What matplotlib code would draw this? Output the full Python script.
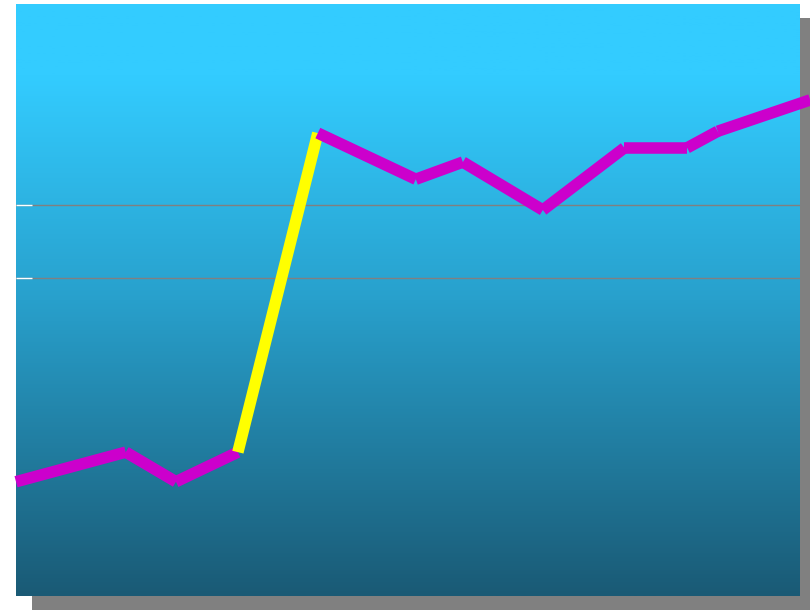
import numpy as np
import matplotlib
matplotlib.use("Agg")
import matplotlib.pyplot as plt
from matplotlib.colors import LinearSegmentedColormap
from matplotlib.patches import Rectangle

# data (x on a 0-100 scale, y on a 0-100 scale)
x_vals = [0, 14.0, 20.4, 28.3, 38.5, 51.0, 57.0, 67.2, 77.6, 85.6, 89.5, 101.3]
y_vals = [19.3, 24.3, 19.3, 24.3, 78.2, 70.4, 73.3, 65.2, 75.7, 75.7, 78.5, 83.8]
seg_colors = ["#CC00CC", "#CC00CC", "#CC00CC", "#FFFF00", "#CC00CC", "#CC00CC",
              "#CC00CC", "#CC00CC", "#CC00CC", "#CC00CC", "#CC00CC"]
grid_vals = [53.7, 66.0]

W, H = 810, 610
fig = plt.figure(figsize=(W / 100, H / 100), dpi=100)
fig.patch.set_facecolor("white")

# drop shadow behind the panel
fig.patches.append(Rectangle((32 / W, 0), (W - 32) / W, (H - 18) / H,
                             transform=fig.transFigure, facecolor="#808080",
                             edgecolor="none", zorder=0))

ax = fig.add_axes([16 / W, 14 / H, 784 / W, 592 / H])
ax.set_zorder(1)
ax.set_xlim(0, 100)
ax.set_ylim(0, 100)

# vertical gradient background
cmap = LinearSegmentedColormap.from_list(
    "bg", [(0, "#1A5A75"), (0.5, "#28A0CC"), (0.88, "#33CCFF"), (1, "#33CCFF")])
grad = np.linspace(0, 1, 256).reshape(-1, 1)
ax.imshow(grad, cmap=cmap, aspect="auto", extent=[0, 100, 0, 100],
          origin="lower", zorder=0)

ax.set_yticks(grid_vals)
ax.set_xticks([])
ax.tick_params(axis="y", direction="in", length=11.5, width=1, color="white",
               labelleft=False)
ax.yaxis.grid(True, color="#808080", linewidth=1)
ax.set_axisbelow(False)
for s in ax.spines.values():
    s.set_visible(False)

for i in range(len(x_vals) - 1):
    ax.plot(x_vals[i:i + 2], y_vals[i:i + 2], color=seg_colors[i],
            linewidth=8.3, solid_capstyle="butt", clip_on=False, zorder=3)

fig.savefig("out.png", dpi=100)
